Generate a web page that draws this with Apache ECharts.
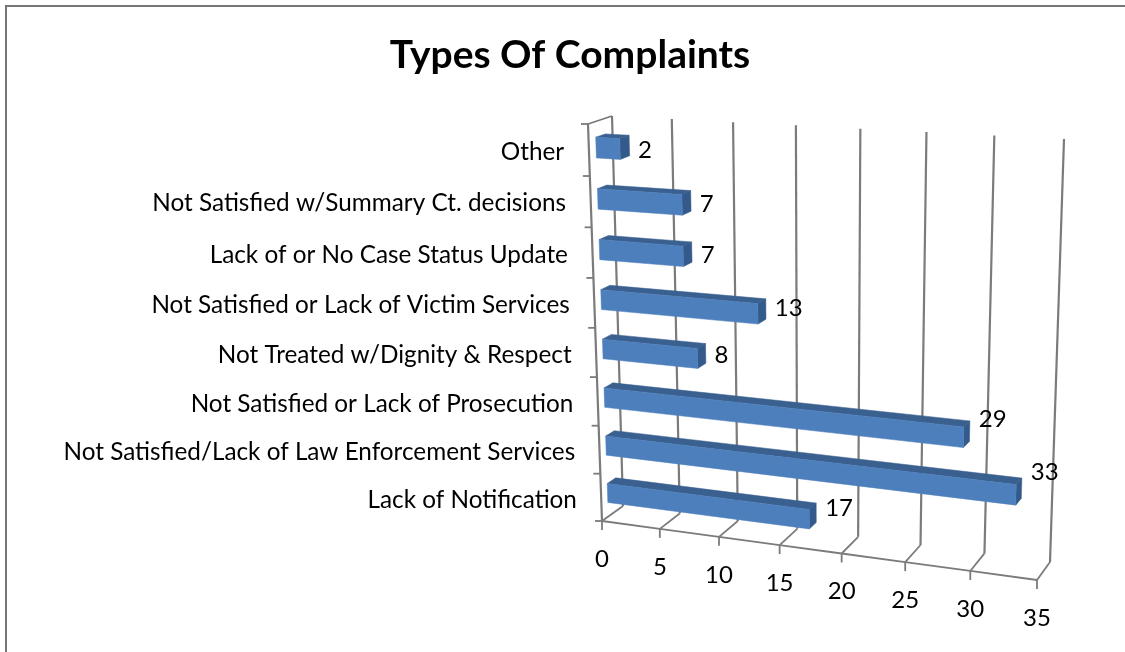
<!DOCTYPE html>
<html>
<head>
<meta charset="utf-8">
<title>Types Of Complaints</title>
<style>
html,body{margin:0;padding:0;background:#fff;}
#main{width:1125px;height:652px;}
</style>
<script src="https://cdn.jsdelivr.net/npm/echarts@6/dist/echarts.min.js"></script>
</head>
<body>
<div id="main"></div>
<script>
var chartTitle = 'Types Of Complaints';
// bottom to top, the way the category axis counts
var categories = [
    'Lack of Notification',
    'Not Satisfied/Lack of Law Enforcement Services',
    'Not Satisfied or Lack of Prosecution',
    'Not Treated w/Dignity & Respect',
    'Not Satisfied or Lack of Victim Services',
    'Lack of or No Case Status Update',
    'Not Satisfied w/Summary Ct. decisions',
    'Other'
];
var complaintCounts = [17, 33, 29, 8, 13, 7, 7, 2];
var xTicks = [0, 5, 10, 15, 20, 25, 30, 35];

var FONT = 'Lato';
var LINE = '#7b7b7b';
var GRID = {left: 602, top: 124, width: 435, height: 397};

// corners of the tilted box: tl, tr, br, bl
var frontPlane = [[588, 124], [1048, 150], [1037, 580], [602, 521]];
var backPlane = [[612, 116], [1064, 139], [1050, 562], [623, 506]];

// unit square -> quad
function quadMap(c) {
    var x0 = c[0][0], y0 = c[0][1], x1 = c[1][0], y1 = c[1][1];
    var x2 = c[2][0], y2 = c[2][1], x3 = c[3][0], y3 = c[3][1];
    var dx1 = x1 - x2, dx2 = x3 - x2, sx = x0 - x1 + x2 - x3;
    var dy1 = y1 - y2, dy2 = y3 - y2, sy = y0 - y1 + y2 - y3;
    var den = dx1 * dy2 - dx2 * dy1;
    var g = (sx * dy2 - dx2 * sy) / den;
    var h = (dx1 * sy - sx * dy1) / den;
    var a = x1 - x0 + g * x1, b = x3 - x0 + h * x3;
    var d = y1 - y0 + g * y1, e = y3 - y0 + h * y3;
    return function (u, v) {
        var w = g * u + h * v + 1;
        return [(a * u + b * v + x0) / w, (d * u + e * v + y0) / w];
    };
}
var frontMap = quadMap(frontPlane);
var backMap = quadMap(backPlane);

// flat grid pixel -> picture, depth 0 is the front of the box, 1 the back wall
function project(p, depth) {
    var u = (p[0] - GRID.left) / GRID.width;
    var v = (p[1] - GRID.top) / GRID.height;
    var f = frontMap(u, v), b = backMap(u, v);
    return [f[0] + (b[0] - f[0]) * depth, f[1] + (b[1] - f[1]) * depth];
}

function seg(a, b, width) {
    return {
        type: 'line',
        shape: {x1: a[0], y1: a[1], x2: b[0], y2: b[1]},
        style: {stroke: LINE, lineWidth: width}
    };
}
function poly(points, color) {
    return {
        type: 'polygon',
        shape: {points: points},
        style: {fill: color, stroke: color, lineWidth: 0.5}
    };
}

// gridlines on back wall and floor, axis ticks and labels
function renderXTick(params, api) {
    var value = api.value(0);
    var half = api.size([0, 1])[1] / 2;
    var top = api.coord([value, categories.length - 1]);
    top[1] -= half;
    var bottom = api.coord([value, 0]);
    bottom[1] += half;
    var fb = project(bottom, 0);
    var children = [
        seg(project(top, 1), project(bottom, 1), 2.2),
        seg(project(bottom, 1), fb, 1.8),
        seg(fb, [fb[0], fb[1] + 9], 1.8),
        {
            type: 'text',
            style: {
                text: String(value), x: fb[0], y: fb[1] + 38,
                font: '24px ' + FONT, fill: '#000', align: 'center', verticalAlign: 'middle'
            }
        }
    ];
    if (params.dataIndex < xTicks.length - 1) {
        var next = api.coord([xTicks[params.dataIndex + 1], 0])[0];
        children.push(seg(fb, project([next, bottom[1]], 0), 1.8));
    }
    if (value === 0) {
        children.push(seg(project(top, 0), fb, 2.2));
        children.push(seg(project(top, 0), project(top, 1), 1.8));
    }
    return {type: 'group', children: children};
}

// ticks and names along the left edge
function renderCategory(params, api) {
    var mid = api.coord([0, api.value(1)]);
    var half = api.size([0, 1])[1] / 2;
    var edge = project(mid, -0.2);
    var up = project([mid[0], mid[1] - half], 0);
    var children = [
        seg(up, [up[0] - 7, up[1]], 1.8),
        {
            type: 'text',
            style: {
                text: categories[params.dataIndex], x: edge[0] - 20, y: edge[1],
                font: '24.3px ' + FONT, fill: '#000', align: 'right', verticalAlign: 'middle'
            }
        }
    ];
    if (params.dataIndex === 0) {
        var low = project([mid[0], mid[1] + half], 0);
        children.push(seg(low, [low[0] - 7, low[1]], 1.8));
    }
    return {type: 'group', children: children};
}

function renderBar(params, api) {
    var value = api.value(0), cat = api.value(1);
    var start = api.coord([0, cat]);
    var end = api.coord([value, cat]);
    var half = api.size([0, 1])[1] * 0.2;
    var d0 = 0.3, d1 = 0.7;
    var lt = [start[0], start[1] - half], lb = [start[0], start[1] + half];
    var rt = [end[0], end[1] - half], rb = [end[0], end[1] + half];
    var side = project(rt, d1);
    var midY = (project(start, d0)[1] + project(end, d0)[1]) / 2;
    return {
        type: 'group',
        children: [
            poly([project(lt, d0), project(rt, d0), project(rt, d1), project(lt, d1)], '#3a6090'),
            poly([project(rt, d0), project(rb, d0), project(rb, d1), project(rt, d1)], '#335a8a'),
            poly([project(lt, d0), project(rt, d0), project(rb, d0), project(lb, d0)], '#4d7fbd'),
            {
                type: 'text',
                style: {
                    text: String(value), x: side[0] + 9, y: midY + 2,
                    font: '24px ' + FONT, fill: '#000', align: 'left', verticalAlign: 'middle'
                }
            }
        ]
    };
}

var myChart = echarts.init(document.getElementById('main'));
var option = {
    animation: false,
    backgroundColor: '#fff',
    title: {
        text: chartTitle,
        left: 565,
        top: 31,
        textAlign: 'center',
        textStyle: {fontFamily: FONT, fontSize: 39, fontWeight: 'bold', color: '#000'}
    },
    graphic: [
        {type: 'rect', shape: {x: 5, y: 5, width: 1120, height: 2}, style: {fill: '#767676'}},
        {type: 'rect', shape: {x: 5, y: 5, width: 2, height: 647}, style: {fill: '#767676'}}
    ],
    grid: GRID,
    xAxis: {type: 'value', min: 0, max: 35, interval: 5, show: false},
    yAxis: {type: 'category', data: categories, show: false},
    series: [
        {
            type: 'custom',
            coordinateSystem: 'cartesian2d',
            renderItem: renderXTick,
            data: xTicks.map(function (t) { return [t, 0]; }),
            clip: false,
            z: 1
        },
        {
            type: 'custom',
            coordinateSystem: 'cartesian2d',
            renderItem: renderCategory,
            data: categories.map(function (c, i) { return [0, i]; }),
            clip: false,
            z: 1
        },
        {
            type: 'custom',
            coordinateSystem: 'cartesian2d',
            renderItem: renderBar,
            data: complaintCounts.map(function (v, i) { return [v, i]; }),
            clip: false,
            z: 2
        }
    ]
};
myChart.setOption(option);
</script>
</body>
</html>
